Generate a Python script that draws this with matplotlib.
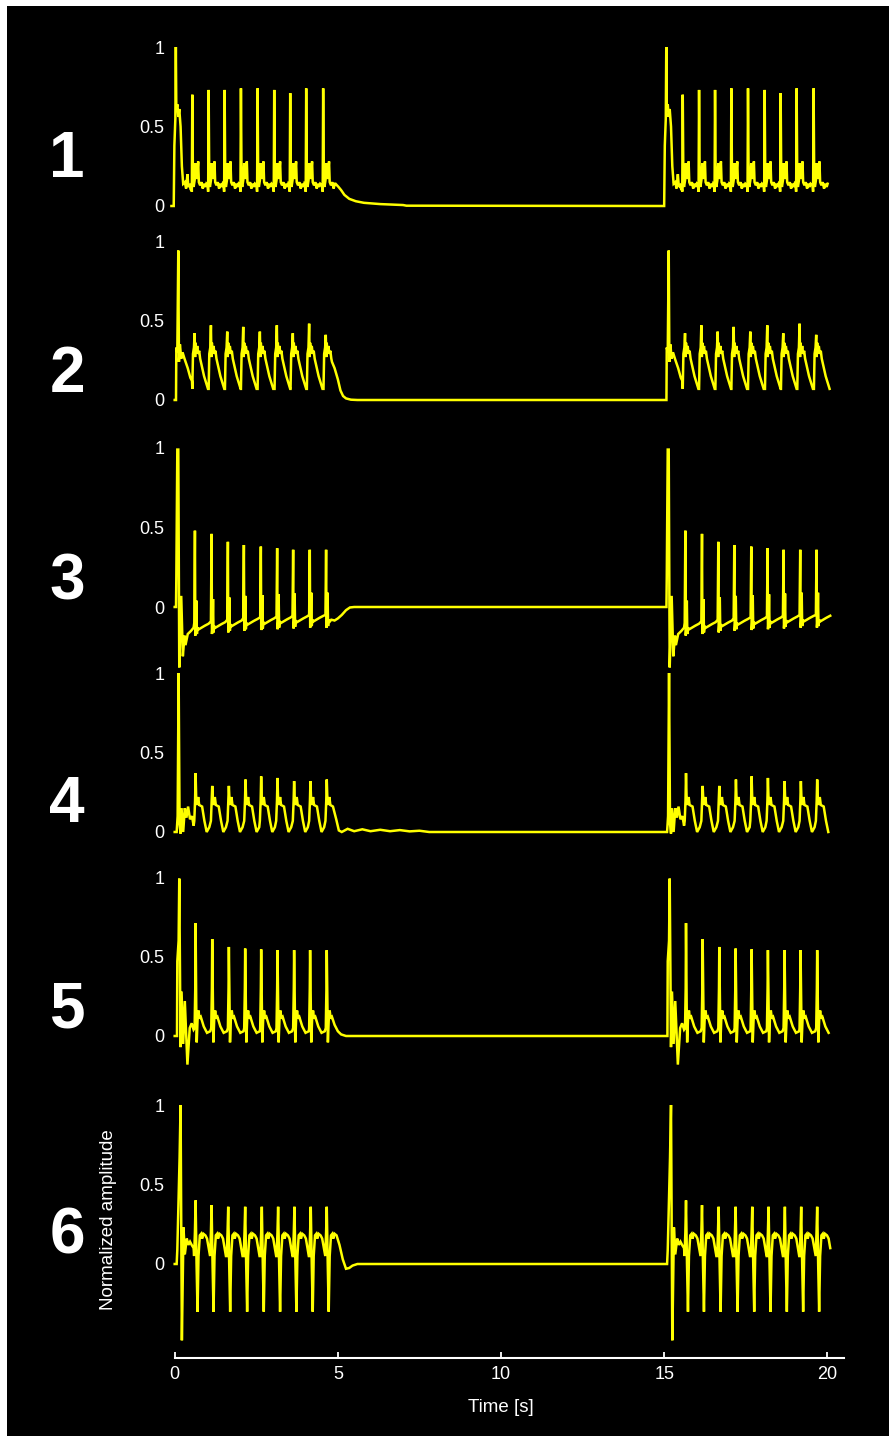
import matplotlib
matplotlib.use("Agg")
import matplotlib.pyplot as plt
from matplotlib.patches import Rectangle

plt.rcParams["font.family"] = ["Liberation Sans", "DejaVu Sans"]

W, H = 896, 1442
YELLOW = "#ffff00"

# second stimulation block repeats the first one
burst_offset = 15.03
t_end = 20.1

# ---- trace 1 ----
onset_1 = [(-0.10, 0.0), (-0.03, 0.0), (-0.01, 0.38), (0.02, 0.55), (0.035, 1.0),
           (0.05, 0.6), (0.08, 0.64), (0.11, 0.56), (0.14, 0.61), (0.18, 0.5),
           (0.22, 0.25), (0.26, 0.14), (0.31, 0.15), (0.35, 0.11), (0.39, 0.2),
           (0.42, 0.12), (0.46, 0.13), (0.5, 0.1)]
spikes_1 = [0.54, 1.04, 1.53, 2.03, 2.54, 3.05, 3.54, 4.03, 4.55]
peaks_1 = [0.70, 0.73, 0.73, 0.74, 0.74, 0.73, 0.71, 0.74, 0.74]
levels_1 = [0, 0, 0, 0, 0, 0, 0, 0, 0]
cycle_1 = [(-0.03, 0.13), (-0.015, 0.09), (0.0, None), (0.02, 0.14), (0.04, 0.12),
           (0.07, 0.16), (0.1, 0.27), (0.12, 0.17), (0.15, 0.2), (0.18, 0.28),
           (0.2, 0.15), (0.24, 0.13), (0.28, 0.15), (0.32, 0.11), (0.36, 0.14),
           (0.4, 0.12), (0.43, 0.14)]
tail_1 = [(4.93, 0.14), (5.02, 0.12), (5.1, 0.1), (5.2, 0.07), (5.35, 0.045),
          (5.55, 0.03), (5.8, 0.02), (6.3, 0.012), (7.0, 0.006), (7.1, 0.002)]

# ---- trace 2 ----
onset_2 = [(0.0, 0.0), (0.04, 0.0), (0.05, 0.33), (0.08, 0.3), (0.11, 0.94),
           (0.13, 0.24), (0.16, 0.35), (0.2, 0.26), (0.24, 0.3), (0.3, 0.26),
           (0.4, 0.2), (0.48, 0.14), (0.53, 0.12)]
spikes_2 = [0.61, 1.11, 1.61, 2.10, 2.61, 3.13, 3.62, 4.12, 4.63]
peaks_2 = [0.42, 0.47, 0.43, 0.46, 0.43, 0.47, 0.42, 0.48, 0.41]
levels_2 = [0, 0, 0, 0, 0, 0, 0, 0, 0]
cycle_2 = [(-0.07, 0.07), (-0.05, 0.29), (-0.02, 0.33), (0.0, None), (0.015, 0.27),
           (0.03, 0.36), (0.05, 0.29), (0.08, 0.34), (0.11, 0.29), (0.14, 0.31),
           (0.17, 0.26), (0.29, 0.15), (0.41, 0.07)]
tail_2 = [(4.82, 0.24), (4.9, 0.2), (5.0, 0.13), (5.08, 0.06), (5.16, 0.025),
          (5.25, 0.01), (5.4, 0.002), (5.6, 0.0)]

# ---- trace 3 ----
onset_3 = [(0.0, 0.0), (0.04, 0.0), (0.05, 0.19), (0.08, 0.99), (0.11, 0.99),
           (0.14, -0.38), (0.2, 0.07), (0.25, -0.31), (0.3, -0.18), (0.33, -0.24),
           (0.4, -0.17), (0.5, -0.15), (0.58, -0.13)]
spikes_3 = [0.62, 1.13, 1.63, 2.12, 2.64, 3.14, 3.63, 4.14, 4.64]
peaks_3 = [0.48, 0.46, 0.41, 0.39, 0.38, 0.37, 0.36, 0.36, 0.36]
levels_3 = [-0.13, -0.12, -0.11, -0.10, -0.095, -0.09, -0.085, -0.08, -0.08]
cycle_3 = [(-0.02, 0.03), (0.0, None), (0.012, -0.05), (0.03, 0.0), (0.045, 0.17),
           (0.06, -0.04), (0.08, 0.0), (0.12, -0.01), (0.2, 0.0), (0.3, 0.012),
           (0.42, 0.025)]
tail_3 = [(4.8, -0.08), (4.9, -0.085), (5.0, -0.072), (5.12, -0.05), (5.25, -0.02),
          (5.37, -0.003), (5.5, 0.0)]

# ---- trace 4 ----
onset_4 = [(0.0, 0.0), (0.06, 0.0), (0.09, 0.1), (0.12, 1.0), (0.15, 0.05),
           (0.18, -0.01), (0.21, 0.15), (0.26, 0.0), (0.31, 0.15), (0.36, 0.09),
           (0.41, 0.16), (0.47, 0.08), (0.53, 0.1), (0.58, 0.04)]
spikes_4 = [0.64, 1.15, 1.66, 2.17, 2.65, 3.15, 3.66, 4.16, 4.66]
peaks_4 = [0.37, 0.29, 0.29, 0.33, 0.35, 0.34, 0.32, 0.32, 0.33]
levels_4 = [0, 0, 0, 0, 0, 0, 0, 0, 0]
cycle_4 = [(-0.04, 0.07), (-0.015, 0.2), (0.0, None), (0.02, 0.2), (0.05, 0.17),
           (0.08, 0.22), (0.11, 0.17), (0.2, 0.16), (0.27, 0.07), (0.34, 0.0),
           (0.42, 0.03)]
tail_4 = [(4.85, 0.16), (4.95, 0.08), (5.03, 0.01), (5.12, 0.0), (5.3, 0.02),
          (5.5, 0.005), (5.75, 0.017), (6.0, 0.005), (6.3, 0.014), (6.6, 0.005),
          (6.9, 0.012), (7.2, 0.004), (7.5, 0.008), (7.8, 0.0)]

# ---- trace 5 ----
onset_5 = [(0.0, 0.0), (0.07, 0.0), (0.08, 0.47), (0.12, 0.6), (0.14, 0.99),
           (0.18, -0.07), (0.21, 0.28), (0.26, -0.05), (0.31, 0.22), (0.39, -0.18),
           (0.46, 0.05), (0.52, 0.08), (0.58, 0.04)]
spikes_5 = [0.64, 1.15, 1.66, 2.16, 2.65, 3.15, 3.66, 4.15, 4.66]
peaks_5 = [0.71, 0.61, 0.56, 0.55, 0.545, 0.54, 0.54, 0.54, 0.54]
levels_5 = [0, 0, 0, 0, 0, 0, 0, 0, 0]
cycle_5 = [(-0.03, 0.05), (-0.01, 0.3), (0.0, None), (0.02, 0.2), (0.035, -0.04),
           (0.06, 0.1), (0.09, 0.16), (0.12, 0.11), (0.16, 0.12), (0.25, 0.06),
           (0.35, 0.02), (0.45, 0.03)]
tail_5 = [(4.82, 0.12), (4.9, 0.07), (5.0, 0.03), (5.1, 0.01), (5.25, 0.0)]

# ---- trace 6 ----
onset_6 = [(0.0, 0.0), (0.06, 0.0), (0.08, 0.09), (0.15, 0.67), (0.18, 1.0),
           (0.22, -0.48), (0.27, 0.23), (0.31, 0.06), (0.37, 0.16), (0.42, 0.12),
           (0.47, 0.14), (0.52, 0.12), (0.58, 0.1)]
spikes_6 = [0.64, 1.13, 1.64, 2.16, 2.67, 3.17, 3.67, 4.17, 4.66]
peaks_6 = [0.40, 0.37, 0.36, 0.36, 0.36, 0.36, 0.36, 0.36, 0.36]
levels_6 = [0, 0, 0, 0, 0, 0, 0, 0, 0]
cycle_6 = [(-0.045, 0.05), (-0.02, 0.2), (0.0, None), (0.03, 0.0), (0.06, -0.3),
           (0.09, 0.05), (0.13, 0.18), (0.17, 0.19), (0.2, 0.16), (0.24, 0.19),
           (0.3, 0.18), (0.35, 0.16), (0.4, 0.1), (0.44, 0.05)]
tail_6 = [(4.96, 0.18), (5.05, 0.12), (5.15, 0.03), (5.25, -0.03), (5.35, -0.025),
          (5.45, -0.01), (5.6, 0.0)]

traces = [
    (onset_1, spikes_1, peaks_1, levels_1, cycle_1, tail_1),
    (onset_2, spikes_2, peaks_2, levels_2, cycle_2, tail_2),
    (onset_3, spikes_3, peaks_3, levels_3, cycle_3, tail_3),
    (onset_4, spikes_4, peaks_4, levels_4, cycle_4, tail_4),
    (onset_5, spikes_5, peaks_5, levels_5, cycle_5, tail_5),
    (onset_6, spikes_6, peaks_6, levels_6, cycle_6, tail_6),
]
trace_labels = ["1", "2", "3", "4", "5", "6"]

# layout (pixels)
baseline_px = [206, 400, 607, 832, 1036, 1264]
label_px = [177, 392, 599, 822, 1027, 1254]
px_per_unit = 159.0


def build_trace(onset, spikes, peaks, levels, cycle, tail):
    pts = list(onset)
    for ts, pk, lv in zip(spikes, peaks, levels):
        for dt, v in cycle:
            pts.append((ts + dt, pk if v is None else v + lv))
    first = [p for p in pts if p[0] < tail[0][0]] + list(tail)
    second = [(t + burst_offset, v) for t, v in pts if t + burst_offset <= t_end]
    allp = first + second
    return [p[0] for p in allp], [p[1] for p in allp]


fig = plt.figure(figsize=(W / 100, H / 100), dpi=100, facecolor="white")
fig.patches.append(Rectangle((7 / W, 6 / H), (889 - 7) / W, (1436 - 6) / H,
                             transform=fig.transFigure, facecolor="black",
                             edgecolor="none", zorder=-10))

x0_px, px_per_s = 174.7, 32.63
xmin, xmax = -0.15, 20.5
top_px, bot_px = 40, 1358
left = (x0_px + xmin * px_per_s) / W
right = (x0_px + xmax * px_per_s) / W
ax = fig.add_axes([left, 1 - bot_px / H, right - left, (bot_px - top_px) / H])
ax.set_facecolor("none")
ax.set_zorder(5)

offsets = [-(b - baseline_px[0]) / px_per_unit for b in baseline_px]
for off, tr in zip(offsets, traces):
    t, v = build_trace(*tr)
    ax.plot(t, [off + y for y in v], color=YELLOW, lw=1.8, solid_joinstyle="miter")

ax.set_xlim(xmin, xmax)
ax.set_ylim((baseline_px[0] - bot_px) / px_per_unit, (baseline_px[0] - top_px) / px_per_unit)

yt, yl = [], []
for off in offsets:
    for v, s in zip((0, 0.5, 1), ("0", "0.5", "1")):
        yt.append(off + v)
        yl.append(s)
ax.set_yticks(yt)
ax.set_yticklabels(yl)
ax.tick_params(axis="y", length=0, pad=4, labelcolor="white", labelsize=13)

ax.set_xticks([0, 5, 10, 15, 20])
ax.tick_params(axis="x", direction="in", length=4, width=1.3, color="white",
               labelcolor="white", labelsize=13, pad=6)
for side in ("left", "right", "top"):
    ax.spines[side].set_visible(False)
ax.spines["bottom"].set_color("white")
ax.spines["bottom"].set_linewidth(1.5)
ax.spines["bottom"].set_bounds(0, xmax)
ax.set_xlabel("Time [s]", color="white", fontsize=13.5, labelpad=11)
# label sits under the middle of the 0-20 s range
ax.xaxis.label.set_x((10 - xmin) / (xmax - xmin))

for lab, y in zip(trace_labels, label_px):
    fig.text(67 / W, 1 - y / H, lab, color="white", fontsize=46,
             fontweight="bold", ha="center", va="baseline")

fig.text(108 / W, 1 - 1220 / H, "Normalized amplitude", color="white",
         fontsize=13.5, rotation=90, ha="center", va="center")

fig.savefig("out.png", dpi=100, facecolor=fig.get_facecolor())
